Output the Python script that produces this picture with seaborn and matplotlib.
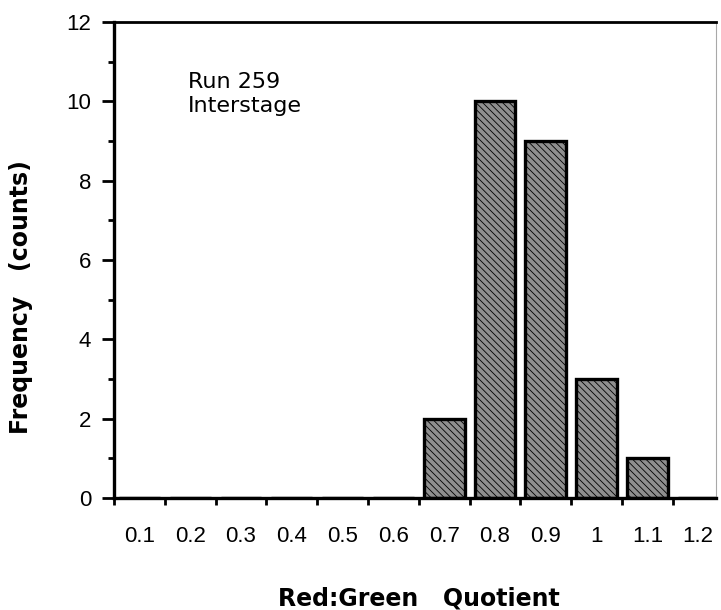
import matplotlib
matplotlib.use("Agg")
import matplotlib.pyplot as plt
import seaborn as sns
import numpy as np

# Histogram of red:green quotients, bin labels and counts
categories = ["0.1", "0.2", "0.3", "0.4", "0.5", "0.6",
              "0.7", "0.8", "0.9", "1", "1.1", "1.2"]
counts = [0, 0, 0, 0, 0, 0, 2, 10, 9, 3, 1, 0]
y_ticks = [0, 2, 4, 6, 8, 10, 12]

sns.set_theme(style="white")
plt.rcParams["font.family"] = ["DejaVu Sans"]
plt.rcParams["hatch.linewidth"] = 0.6

W, H = 721, 610
fig = plt.figure(figsize=(W / 100, H / 100), dpi=100)
left, right, top, bottom = 114, 716, 22, 498
ax = fig.add_axes([left / W, 1 - bottom / H, (right - left) / W, (bottom - top) / H])

sns.barplot(x=categories, y=counts, ax=ax, width=0.8, color="#8f8f8f",
            edgecolor="black", linewidth=2.4, hatch="\\\\\\\\\\", saturation=1)

ax.set_xlim(-0.5, 11.35)
ax.set_ylim(0, 12)

# Spines: heavy left/bottom/top, faint right edge
for side in ("left", "bottom"):
    ax.spines[side].set_linewidth(2.4)
    ax.spines[side].set_color("black")
ax.spines["top"].set_linewidth(2.0)
ax.spines["top"].set_color("black")
ax.spines["right"].set_linewidth(0.8)
ax.spines["right"].set_color("#a8a8a8")

tick_font = {"family": ["Liberation Sans", "DejaVu Sans"], "size": 16}

# x: labels at bin centres, tick marks at bin boundaries
ax.set_xticks(range(len(categories)))
ax.set_xticklabels(categories, fontdict=tick_font)
ax.set_xticks(np.arange(-0.5, len(categories) - 1, 1), minor=True)
ax.tick_params(axis="x", which="major", length=0, pad=20,
               labelcolor="black")
ax.tick_params(axis="x", which="minor", bottom=True, direction="out",
               length=5, width=2.0, color="black")

# y: major ticks every 2, minor ticks in between
ax.set_yticks(y_ticks)
ax.set_yticklabels([str(v) for v in y_ticks], fontdict=tick_font)
ax.set_yticks(np.arange(1, 12, 2), minor=True)
ax.tick_params(axis="y", which="major", left=True, direction="out",
               length=8.5, width=2.0, color="black", pad=8,
               labelcolor="black")
ax.tick_params(axis="y", which="minor", left=True, direction="out",
               length=4, width=2.0, color="black")

ax.set_xlabel("Red:Green   Quotient", fontsize=17, fontweight="bold",
              color="black")
ax.xaxis.set_label_coords(0.507, -0.186)
ax.set_ylabel("Frequency   (counts)", fontsize=17, fontweight="bold",
              color="black")
ax.yaxis.set_label_coords(-0.135, 0.422)

ax.text(0.123, 0.895, "Run 259\nInterstage", transform=ax.transAxes,
        ha="left", va="top", fontsize=16, color="black", linespacing=1.25)

fig.savefig("out.png", dpi=100, facecolor="white")
